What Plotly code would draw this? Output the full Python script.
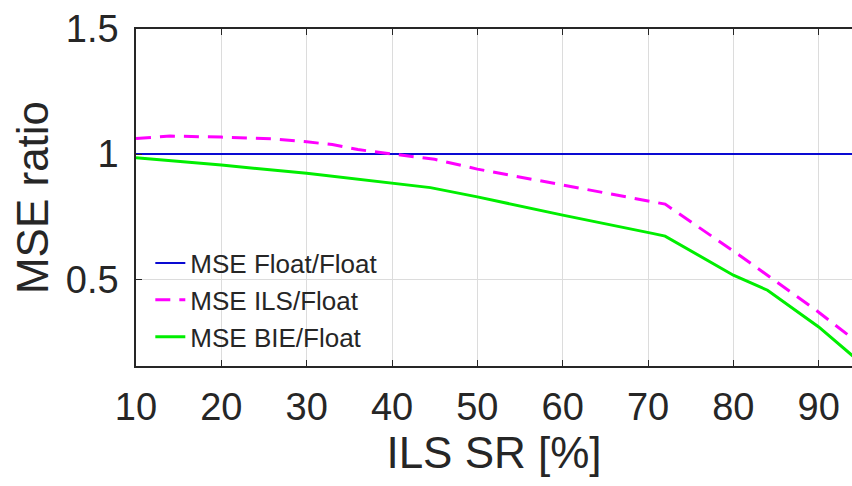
import plotly.graph_objects as go

# Data
x_float = [10, 94]
mse_float = [1.0, 1.0]

x_ils = [10, 14, 20, 26, 30, 33, 36, 40, 45, 50, 60, 70, 72, 80.7, 86, 90, 94]
mse_ils = [1.062, 1.072, 1.068, 1.061, 1.049, 1.038, 1.018, 1.0, 0.979, 0.94,
           0.876, 0.812, 0.80, 0.596, 0.468, 0.368, 0.262]

x_bie = [10, 20, 30, 41.7, 44.5, 50, 60, 70.5, 72, 80, 84, 90, 94]
mse_bie = [0.985, 0.956, 0.923, 0.876, 0.866, 0.829, 0.756, 0.683, 0.672,
           0.516, 0.456, 0.309, 0.193]

x_ticks = [10, 20, 30, 40, 50, 60, 70, 80, 90]
y_ticks = [0.5, 1, 1.5]
y_tick_text = ["0.5", "1", "1.5"]

FONT = "Liberation Sans, Arial, sans-serif"

fig = go.Figure()
fig.add_trace(go.Scatter(x=x_float, y=mse_float, mode="lines", name="MSE Float/Float",
                         line=dict(color="#0a0ad2", width=2)))
fig.add_trace(go.Scatter(x=x_ils, y=mse_ils, mode="lines", name="MSE ILS/Float",
                         line=dict(color="#ff00ff", width=3, dash="15px,9px")))
fig.add_trace(go.Scatter(x=x_bie, y=mse_bie, mode="lines", name="MSE BIE/Float",
                         line=dict(color="#00ee00", width=3)))

fig.update_layout(
    width=852, height=486,
    margin=dict(l=136, r=0, t=29, b=120),
    paper_bgcolor="white", plot_bgcolor="white",
    font=dict(family=FONT, color="#262626"),
    showlegend=True,
    legend=dict(x=0.02, y=0.375, xanchor="left", yanchor="top",
                bgcolor="rgba(0,0,0,0)", font=dict(size=26, color="#262626"),
                tracegroupgap=0, itemwidth=30),
)
fig.update_xaxes(
    range=[10, 93.9], tickvals=x_ticks, ticks="inside", ticklen=6, tickcolor="#262626",
    showline=True, linecolor="#262626", linewidth=1.5, mirror="ticks",
    showgrid=True, gridcolor="#dcdcdc", gridwidth=1, zeroline=False,
    tickfont=dict(size=38, color="#262626"), ticklabelstandoff=7,
    title=dict(text="ILS SR [%]", font=dict(size=44, color="#262626"), standoff=8),
    automargin=False,
)
fig.update_yaxes(
    range=[0.153, 1.5], tickvals=y_ticks, ticktext=y_tick_text, ticks="inside", ticklen=6,
    tickcolor="#262626", showline=True, linecolor="#262626", linewidth=1.5, mirror=False,
    showgrid=True, gridcolor="#dcdcdc", gridwidth=1, zeroline=False,
    tickfont=dict(size=38, color="#262626"), ticklabelstandoff=8,
    title=dict(text="MSE ratio", font=dict(size=44, color="#262626"), standoff=3),
    automargin=False,
)

fig.write_html("out.html")
